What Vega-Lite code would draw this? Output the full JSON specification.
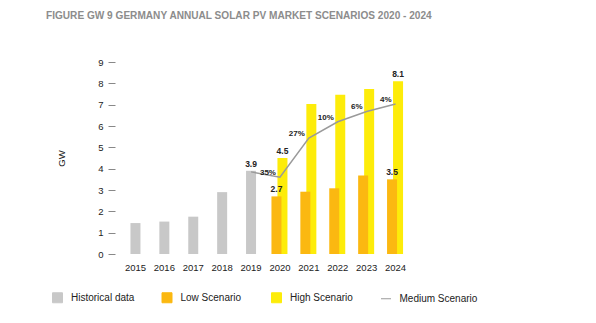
{
  "$schema": "https://vega.github.io/schema/vega-lite/v6.json",
  "width": 289,
  "height": 192,
  "autosize": "none",
  "padding": {"left": 121, "top": 62, "right": 186, "bottom": 69},
  "background": "white",
  "title": {
    "text": "FIGURE GW 9 GERMANY ANNUAL SOLAR PV MARKET SCENARIOS 2020 - 2024",
    "anchor": "start",
    "frame": "group",
    "dx": -75,
    "offset": 36,
    "font": "Liberation Sans",
    "fontSize": 10.1,
    "fontWeight": "bold",
    "color": "#8c8c8c"
  },
  "config": {
    "view": {"stroke": null},
    "font": "Liberation Sans",
    "axis": {"labelFont": "Liberation Sans", "titleFont": "Liberation Sans"}
  },
  "data": {
    "values": [
      {"year": "2015", "series": "Historical data", "value": 1.45},
      {"year": "2016", "series": "Historical data", "value": 1.52},
      {"year": "2017", "series": "Historical data", "value": 1.75},
      {"year": "2018", "series": "Historical data", "value": 2.9},
      {"year": "2019", "series": "Historical data", "value": 3.9, "label": "3.9"},
      {"year": "2020", "series": "Low Scenario", "value": 2.7, "label": "2.7"},
      {"year": "2021", "series": "Low Scenario", "value": 2.92},
      {"year": "2022", "series": "Low Scenario", "value": 3.08},
      {"year": "2023", "series": "Low Scenario", "value": 3.68},
      {"year": "2024", "series": "Low Scenario", "value": 3.5, "label": "3.5"},
      {"year": "2020", "series": "High Scenario", "value": 4.5, "label": "4.5"},
      {"year": "2021", "series": "High Scenario", "value": 7.03},
      {"year": "2022", "series": "High Scenario", "value": 7.46},
      {"year": "2023", "series": "High Scenario", "value": 7.73},
      {"year": "2024", "series": "High Scenario", "value": 8.1, "label": "8.1"},
      {"year": "2019", "series": "Medium Scenario", "value": 3.85},
      {"year": "2020", "series": "Medium Scenario", "value": 3.6, "label": "35%"},
      {"year": "2021", "series": "Medium Scenario", "value": 5.43, "label": "27%"},
      {"year": "2022", "series": "Medium Scenario", "value": 6.2, "label": "10%"},
      {"year": "2023", "series": "Medium Scenario", "value": 6.68, "label": "6%"},
      {"year": "2024", "series": "Medium Scenario", "value": 7.03, "label": "4%"}
    ]
  },
  "encoding": {
    "x": {
      "field": "year",
      "type": "ordinal",
      "scale": {"domain": ["2015","2016","2017","2018","2019","2020","2021","2022","2023","2024"], "paddingInner": 0, "paddingOuter": 0},
      "axis": {"title": null, "labelAngle": 0, "ticks": false, "domain": false, "labelPadding": 8, "labelFontSize": 9.5, "labelColor": "#222"}
    },
    "y": {
      "field": "value",
      "type": "quantitative",
      "scale": {"domain": [0, 9], "nice": false},
      "axis": {"title": "GW", "values": [0,1,2,3,4,5,6,7,8,9], "grid": false, "domain": false, "offset": 6, "tickSize": 7, "tickColor": "#888", "labelPadding": 5, "labelFontSize": 9.5, "labelColor": "#222", "titleFontSize": 9.5, "titleFontWeight": "normal", "titleColor": "#222", "titlePadding": 31}
    }
  },
  "layer": [
    {
      "transform": [{"filter": "datum.series === 'High Scenario'"}],
      "mark": {"type": "bar", "width": 10, "xOffset": 2.5},
      "encoding": {
        "color": {
          "field": "series", "type": "nominal",
          "scale": {"domain": ["Historical data", "Low Scenario", "High Scenario", "Medium Scenario"], "range": ["#c8c8c8", "#fbb811", "#fdec0a", "#9a9a9a"]},
          "legend": {
            "title": null, "orient": "none", "legendX": -69, "legendY": 230,
            "direction": "horizontal", "columns": 4, "gridAlign": "all", "columnPadding": 10.5,
            "symbolSize": 100, "labelOffset": 8, "labelFontSize": 10, "labelColor": "#222", "labelFont": "Liberation Sans",
            "encode": {
              "symbols": {
                "update": {
                  "shape": [{"test": "datum.value === 'Medium Scenario'", "value": "stroke"}, {"value": "square"}],
                  "fill": [{"test": "datum.value === 'Medium Scenario'", "value": "transparent"}, {"scale": "color", "field": "value"}],
                  "stroke": [{"test": "datum.value === 'Medium Scenario'", "value": "#9a9a9a"}, {"value": "transparent"}],
                  "strokeWidth": {"value": 1}
                }
              }
            }
          }
        }
      }
    },
    {
      "transform": [{"filter": "datum.series === 'Low Scenario'"}],
      "mark": {"type": "bar", "width": 10, "xOffset": -3.5},
      "encoding": {"color": {"field": "series", "type": "nominal"}}
    },
    {
      "transform": [{"filter": "datum.series === 'Historical data'"}],
      "mark": {"type": "bar", "width": 10},
      "encoding": {"color": {"field": "series", "type": "nominal"}}
    },
    {
      "transform": [{"filter": "datum.series === 'Medium Scenario'"}],
      "mark": {"type": "line", "strokeWidth": 1.5},
      "encoding": {"color": {"field": "series", "type": "nominal"}}
    },
    {
      "transform": [{"filter": "datum.series === 'Historical data' && datum.label"}],
      "mark": {"type": "text", "baseline": "bottom", "dy": -2, "fontSize": 8.5, "fontWeight": "bold", "color": "#222"},
      "encoding": {"text": {"field": "label"}}
    },
    {
      "transform": [{"filter": "datum.series === 'Low Scenario' && datum.label"}],
      "mark": {"type": "text", "baseline": "bottom", "dy": -2, "dx": -3.5, "fontSize": 8.5, "fontWeight": "bold", "color": "#222"},
      "encoding": {"text": {"field": "label"}}
    },
    {
      "transform": [{"filter": "datum.series === 'High Scenario' && datum.label"}],
      "mark": {"type": "text", "baseline": "bottom", "dy": -2, "dx": 2.5, "fontSize": 8.5, "fontWeight": "bold", "color": "#222"},
      "encoding": {"text": {"field": "label"}}
    },
    {
      "transform": [{"filter": "datum.series === 'Medium Scenario' && datum.label"}],
      "mark": {"type": "text", "align": "right", "baseline": "middle", "dx": -4, "dy": -4, "fontSize": 8, "fontWeight": "bold", "color": "#222"},
      "encoding": {"text": {"field": "label"}}
    }
  ]
}
